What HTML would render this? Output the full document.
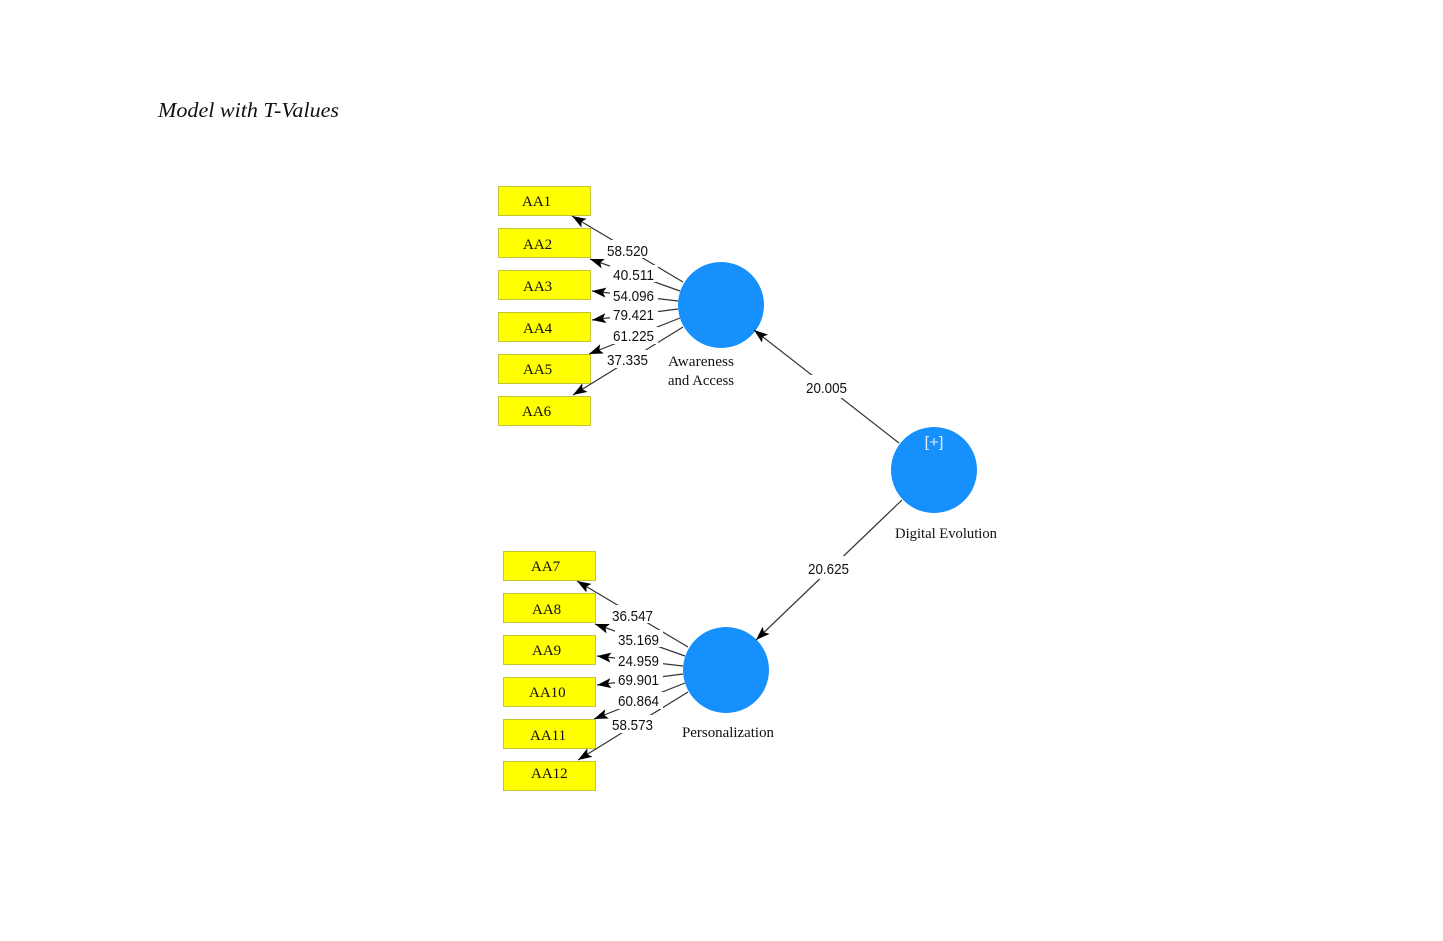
<!DOCTYPE html>
<html>
<head>
<meta charset="utf-8">
<style>
html,body{margin:0;padding:0;background:#fff;}
svg{display:block;}
.v{font-family:"Liberation Sans",sans-serif;font-size:15px;fill:#111;}
.b{font-family:"Liberation Serif",serif;font-size:15px;fill:#111;}
.n{font-family:"Liberation Serif",serif;font-size:15px;fill:#111;}
</style>
</head>
<body>
<svg width="1443" height="941" viewBox="0 0 1443 941" xmlns="http://www.w3.org/2000/svg">
<defs>
<marker id="ar" markerUnits="userSpaceOnUse" markerWidth="16" markerHeight="12" refX="14" refY="5" orient="auto">
<path d="M0,0 L14,5 L0,10 L3,5 z" fill="#000"/>
</marker>
</defs>
<rect width="1443" height="941" fill="#fff"/>
<text x="158" y="117" font-family="Liberation Serif, serif" font-style="italic" font-size="21" fill="#111" textLength="181" lengthAdjust="spacingAndGlyphs">Model with T-Values</text>

<!-- Top group -->
<g id="top">
<g fill="#ffff00" stroke="#c4c43a" stroke-width="1">
<rect x="498.5" y="186.5" width="92" height="29"/>
<rect x="498.5" y="228.5" width="92" height="29"/>
<rect x="498.5" y="270.5" width="92" height="29"/>
<rect x="498.5" y="312.5" width="92" height="29"/>
<rect x="498.5" y="354.5" width="92" height="29"/>
<rect x="498.5" y="396.5" width="92" height="29"/>
</g>
<g class="b">
<text x="522" y="206">AA1</text>
<text x="523" y="249">AA2</text>
<text x="523" y="291">AA3</text>
<text x="523" y="333">AA4</text>
<text x="523" y="374">AA5</text>
<text x="522" y="416">AA6</text>
</g>
<g stroke="#333" stroke-width="1.2" marker-end="url(#ar)">
<line x1="683" y1="282" x2="572" y2="216"/>
<line x1="680" y1="291" x2="590" y2="259"/>
<line x1="678" y1="301" x2="592" y2="291"/>
<line x1="678" y1="309" x2="592" y2="320"/>
<line x1="680" y1="318" x2="589" y2="354"/>
<line x1="683" y1="327" x2="573" y2="395"/>
</g>
<g fill="#fff">
<rect x="604" y="240" width="48" height="18"/>
<rect x="610" y="265" width="48" height="17"/>
<rect x="610" y="287" width="48" height="17"/>
<rect x="610" y="306" width="48" height="17"/>
<rect x="610" y="327" width="48" height="17"/>
<rect x="604" y="350" width="48" height="18"/>
</g>
<g class="v">
<text x="607" y="256" textLength="41" lengthAdjust="spacingAndGlyphs">58.520</text>
<text x="613" y="280" textLength="41" lengthAdjust="spacingAndGlyphs">40.511</text>
<text x="613" y="301" textLength="41" lengthAdjust="spacingAndGlyphs">54.096</text>
<text x="613" y="320" textLength="41" lengthAdjust="spacingAndGlyphs">79.421</text>
<text x="613" y="341" textLength="41" lengthAdjust="spacingAndGlyphs">61.225</text>
<text x="607" y="365" textLength="41" lengthAdjust="spacingAndGlyphs">37.335</text>
</g>
<circle cx="721" cy="305" r="43" fill="#1590fc"/>
<text class="n" x="668" y="366" textLength="66" lengthAdjust="spacingAndGlyphs">Awareness</text>
<text class="n" x="668" y="385" textLength="66" lengthAdjust="spacingAndGlyphs">and Access</text>
</g>

<!-- Bottom group -->
<g>
<g fill="#ffff00" stroke="#c4c43a" stroke-width="1">
<rect x="503.5" y="551.5" width="92" height="29"/>
<rect x="503.5" y="593.5" width="92" height="29"/>
<rect x="503.5" y="635.5" width="92" height="29"/>
<rect x="503.5" y="677.5" width="92" height="29"/>
<rect x="503.5" y="719.5" width="92" height="29"/>
<rect x="503.5" y="761.5" width="92" height="29"/>
</g>
<g class="b">
<text x="531" y="571">AA7</text>
<text x="532" y="614">AA8</text>
<text x="532" y="655">AA9</text>
<text x="529" y="697">AA10</text>
<text x="530" y="740">AA11</text>
<text x="531" y="778">AA12</text>
</g>
<g stroke="#333" stroke-width="1.2" marker-end="url(#ar)">
<line x1="688" y1="647" x2="577" y2="581"/>
<line x1="685" y1="656" x2="595" y2="624"/>
<line x1="683" y1="666" x2="597" y2="656"/>
<line x1="683" y1="674" x2="597" y2="685"/>
<line x1="685" y1="683" x2="594" y2="719"/>
<line x1="688" y1="692" x2="578" y2="760"/>
</g>
<g fill="#fff">
<rect x="609" y="605" width="48" height="18"/>
<rect x="615" y="630" width="48" height="17"/>
<rect x="615" y="652" width="48" height="17"/>
<rect x="615" y="671" width="48" height="17"/>
<rect x="615" y="692" width="48" height="17"/>
<rect x="609" y="715" width="48" height="18"/>
</g>
<g class="v">
<text x="612" y="621" textLength="41" lengthAdjust="spacingAndGlyphs">36.547</text>
<text x="618" y="645" textLength="41" lengthAdjust="spacingAndGlyphs">35.169</text>
<text x="618" y="666" textLength="41" lengthAdjust="spacingAndGlyphs">24.959</text>
<text x="618" y="685" textLength="41" lengthAdjust="spacingAndGlyphs">69.901</text>
<text x="618" y="706" textLength="41" lengthAdjust="spacingAndGlyphs">60.864</text>
<text x="612" y="730" textLength="41" lengthAdjust="spacingAndGlyphs">58.573</text>
</g>
<circle cx="726" cy="670" r="43" fill="#1590fc"/>
<text class="n" x="682" y="737" textLength="92" lengthAdjust="spacingAndGlyphs">Personalization</text>
</g>

<!-- Structural -->
<g stroke="#333" stroke-width="1.2" marker-end="url(#ar)">
<line x1="899" y1="443" x2="754" y2="330"/>
<line x1="902" y1="500" x2="756" y2="640"/>
</g>
<rect x="802" y="375" width="49" height="23" fill="#fff"/>
<rect x="804" y="556" width="49" height="23" fill="#fff"/>
<text class="v" x="806" y="393" textLength="41" lengthAdjust="spacingAndGlyphs">20.005</text>
<text class="v" x="808" y="574" textLength="41" lengthAdjust="spacingAndGlyphs">20.625</text>
<circle cx="934" cy="470" r="43" fill="#1590fc"/>
<text x="934" y="447" text-anchor="middle" font-family="Liberation Sans, sans-serif" font-size="15" fill="#dfe8f5" textLength="19" lengthAdjust="spacingAndGlyphs">[+]</text>
<text class="n" x="895" y="538" textLength="102" lengthAdjust="spacingAndGlyphs">Digital Evolution</text>
</svg>
</body>
</html>
